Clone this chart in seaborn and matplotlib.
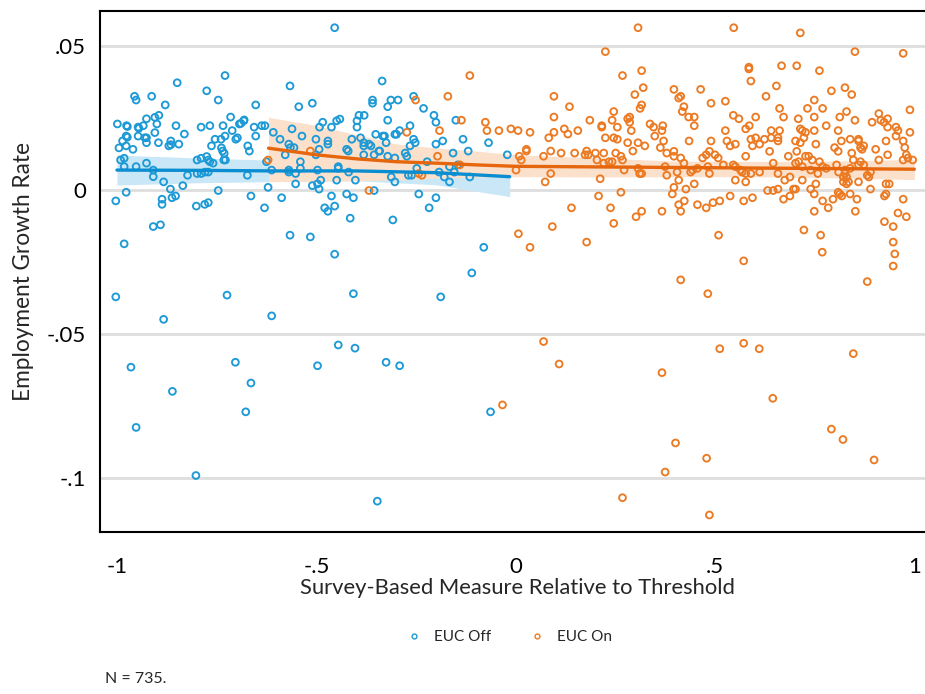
import numpy as np
import pandas as pd
import matplotlib
matplotlib.use("Agg")
import matplotlib.pyplot as plt
import seaborn as sns
from matplotlib.lines import Line2D

# ---------------- data ----------------
off_x_a = [-0.849,-0.729,-0.956,-0.952,-0.913,-0.775,-0.746,-0.879,-0.999,-0.976,
           -0.974,-0.926,-0.905,-0.895,-0.934,-0.947,-0.945,-0.900,-0.852,-0.789,
           -0.767,-0.715,-0.734,-0.711,-0.693,-0.682,-0.905,-0.977,-0.974,-0.947,
           -0.930,-0.926,-0.986,-0.926,-0.896,-0.865,-0.995,-0.977,-0.960,-0.870,
           -0.865,-0.845,-0.831,-0.754,-0.739,-0.729,-0.702,-0.698,-0.763,-0.738,
           -0.735,-0.731,-0.991,-0.982,-0.982,-0.952,-0.926,-0.909,-0.799,-0.789,
           -0.775,-0.771,-0.767,-0.759,-0.732,-0.728,-0.909,-0.823,-0.799,-0.789,
           -0.779,-0.771,-0.883,-0.835,-0.866,-0.977,-0.746,-1.003,-0.887,-0.887,
           -0.862,-0.853,-0.801,-0.780,-0.771,-0.909,-0.891]
off_y_a = [0.0372,0.0397,0.0325,0.0312,0.0325,0.0344,0.0312,0.0295,0.0229,0.0223,
           0.0220,0.0247,0.0252,0.0259,0.0223,0.0218,0.0214,0.0229,0.0223,0.0218,
           0.0223,0.0253,0.0223,0.0206,0.0229,0.0240,0.0199,0.0187,0.0183,0.0187,
           0.0181,0.0181,0.0170,0.0164,0.0164,0.0170,0.0146,0.0153,0.0141,0.0153,
           0.0157,0.0159,0.0194,0.0176,0.0176,0.0187,0.0176,0.0181,0.0153,0.0146,
           0.0135,0.0127,0.0104,0.0110,0.0081,0.0081,0.0093,0.0069,0.0104,0.0110,
           0.0116,0.0104,0.0098,0.0093,0.0104,0.0104,0.0046,0.0051,0.0057,0.0057,
           0.0062,0.0062,0.0028,0.0015,0.0003,-0.0008,-0.0002,-0.0038,-0.0032,-0.0050,
           -0.0027,-0.0021,-0.0056,-0.0050,-0.0044,-0.0127,-0.0121]

off_x_b = [-0.454,-0.335,-0.566,-0.652,-0.544,-0.510,-0.359,-0.359,-0.681,-0.689,
           -0.656,-0.637,-0.629,-0.652,-0.608,-0.672,-0.668,-0.591,-0.561,-0.536,
           -0.569,-0.565,-0.556,-0.492,-0.484,-0.462,-0.449,-0.441,-0.501,-0.471,
           -0.471,-0.493,-0.501,-0.578,-0.540,-0.424,-0.420,-0.411,-0.398,-0.398,
           -0.393,-0.380,-0.389,-0.381,-0.381,-0.368,-0.363,-0.351,-0.381,-0.355,
           -0.343,-0.333,-0.625,-0.612,-0.569,-0.569,-0.552,-0.540,-0.497,-0.445,
           -0.445,-0.419,-0.673,-0.621,-0.552,-0.510,-0.497,-0.493,-0.489,-0.449,
           -0.402,-0.355,-0.664,-0.587,-0.630,-0.462,-0.454,-0.479,-0.471,-0.424,
           -0.407,-0.415]
off_y_b = [0.0563,0.0378,0.0361,0.0295,0.0289,0.0301,0.0312,0.0301,0.0243,0.0231,
           0.0218,0.0223,0.0223,0.0187,0.0200,0.0153,0.0135,0.0176,0.0212,0.0187,
           0.0159,0.0147,0.0147,0.0218,0.0235,0.0218,0.0240,0.0246,0.0176,0.0170,
           0.0159,0.0141,0.0122,0.0122,0.0098,0.0141,0.0135,0.0176,0.0218,0.0240,
           0.0259,0.0259,0.0181,0.0164,0.0153,0.0159,0.0153,0.0193,0.0122,0.0122,
           0.0135,0.0187,0.0098,0.0069,0.0069,0.0062,0.0057,0.0075,0.0069,0.0081,
           0.0075,0.0062,0.0051,0.0009,0.0021,0.0015,0.0021,0.0003,0.0034,0.0034,
           0.0034,-0.0002,-0.0021,-0.0027,-0.0062,-0.0021,-0.0056,-0.0062,-0.0074,-0.0014,
           -0.0027,-0.0098]

off_x_c = [-0.313,-0.295,-0.321,-0.256,-0.231,-0.321,-0.205,-0.200,-0.150,-0.329,
           -0.303,-0.299,-0.291,-0.265,-0.256,-0.252,-0.265,-0.325,-0.341,-0.321,
           -0.303,-0.277,-0.273,-0.200,-0.183,-0.132,-0.157,-0.119,-0.068,-0.021,
           -0.222,-0.248,-0.166,-0.145,-0.192,-0.154,-0.269,-0.261,-0.312,-0.303,
           -0.179,-0.166,-0.115,-0.243,-0.200,-0.217,-0.308]
off_y_c = [0.0312,0.0312,0.0289,0.0325,0.0283,0.0242,0.0259,0.0235,0.0242,0.0187,
           0.0193,0.0193,0.0206,0.0223,0.0176,0.0164,0.0153,0.0164,0.0135,0.0117,
           0.0111,0.0128,0.0117,0.0159,0.0170,0.0176,0.0128,0.0135,0.0164,0.0122,
           0.0098,0.0075,0.0081,0.0087,0.0062,0.0062,0.0051,0.0051,0.0045,0.0028,
           0.0045,0.0028,0.0045,-0.0014,-0.0027,-0.0062,-0.0104]

off_x_d = [-0.982,-1.003,-0.883,-0.724,-0.612,-0.566,-0.515,-0.454,-0.407,-0.188,
           -0.110,-0.080,-0.965,-0.952,-0.861,-0.802,-0.703,-0.664,-0.677,-0.497,
           -0.445,-0.403,-0.325,-0.291,-0.347,-0.063]
off_y_d = [-0.0187,-0.0371,-0.0449,-0.0365,-0.0437,-0.0157,-0.0163,-0.0223,-0.0360,-0.0371,
           -0.0288,-0.0199,-0.0615,-0.0824,-0.0699,-0.0991,-0.0598,-0.0670,-0.0770,-0.0610,
           -0.0538,-0.0549,-0.0598,-0.0610,-0.1080,-0.0770]

on_x_a = [-0.621,-0.515,-0.368,-0.115,-0.170,-0.251,-0.136,-0.076,-0.191,-0.273,
          -0.072,-0.042,-0.012,0.006,-0.196,0.009,0.014,-0.140,0.001,-0.243,
          -0.235,0.007,-0.033]
on_y_a = [0.0104,0.0135,-0.0002,0.0397,0.0325,0.0312,0.0242,0.0235,0.0206,0.0200,
          0.0206,0.0206,0.0212,0.0206,0.0117,0.0117,0.0104,0.0087,0.0069,0.0057,
          0.0051,-0.0152,-0.0746]

on_x_b = [0.307,0.225,0.316,0.268,0.320,0.299,0.096,0.135,0.316,0.312,
          0.246,0.096,0.186,0.242,0.281,0.286,0.286,0.216,0.216,0.255,
          0.290,0.122,0.131,0.156,0.096,0.083,0.036,0.225,0.246,0.255,
          0.281,0.307,0.337,0.346,0.349,0.367,0.369,0.324,0.363,0.027,
          0.027,0.088,0.114,0.148,0.178,0.174,0.182,0.200,0.221,0.251,
          0.294,0.070,0.204,0.221,0.234,0.242,0.264,0.268,0.307,0.311,
          0.316,0.272,0.088,0.074,0.212,0.208,0.264,0.140,0.238,0.092,
          0.246,0.302,0.316,0.367]
on_y_b = [0.0563,0.0480,0.0414,0.0397,0.0355,0.0331,0.0325,0.0289,0.0295,0.0283,
          0.0272,0.0253,0.0242,0.0242,0.0247,0.0253,0.0235,0.0223,0.0218,0.0218,
          0.0206,0.0212,0.0194,0.0206,0.0200,0.0181,0.0200,0.0181,0.0181,0.0176,
          0.0164,0.0164,0.0229,0.0218,0.0187,0.0206,0.0223,0.0153,0.0147,0.0141,
          0.0135,0.0135,0.0128,0.0128,0.0135,0.0122,0.0122,0.0128,0.0128,0.0128,
          0.0135,0.0117,0.0104,0.0093,0.0098,0.0098,0.0117,0.0104,0.0075,0.0057,
          0.0057,0.0069,0.0057,0.0028,0.0039,-0.0021,-0.0008,-0.0062,-0.0062,-0.0127,
          -0.0116,-0.0093,-0.0074,-0.0074]

on_x_c = [0.547,0.714,0.585,0.585,0.667,0.705,0.590,0.397,0.464,0.654,
          0.414,0.409,0.628,0.422,0.418,0.490,0.526,0.662,0.434,0.448,
          0.448,0.546,0.560,0.602,0.672,0.709,0.586,0.577,0.526,0.641,
          0.662,0.719,0.371,0.435,0.490,0.530,0.538,0.551,0.590,0.602,
          0.594,0.612,0.624,0.641,0.658,0.658,0.637,0.702,0.714,0.705,
          0.379,0.397,0.397,0.414,0.422,0.469,0.478,0.486,0.500,0.508,
          0.577,0.684,0.375,0.379,0.405,0.439,0.444,0.456,0.482,0.486,
          0.521,0.546,0.551,0.564,0.568,0.577,0.590,0.612,0.646,0.658,
          0.702,0.710,0.688,0.675,0.719,0.409,0.397,0.393,0.427,0.448,
          0.551,0.577,0.538,0.594,0.572,0.632,0.646,0.658,0.697,0.702,
          0.688,0.672,0.409,0.423,0.414,0.456,0.478,0.495,0.512]
on_y_c = [0.0563,0.0545,0.0426,0.0420,0.0431,0.0431,0.0378,0.0349,0.0349,0.0361,
          0.0325,0.0319,0.0325,0.0289,0.0272,0.0301,0.0308,0.0283,0.0253,0.0253,
          0.0223,0.0259,0.0247,0.0253,0.0253,0.0247,0.0223,0.0212,0.0206,0.0206,
          0.0206,0.0206,0.0170,0.0170,0.0170,0.0170,0.0153,0.0159,0.0176,0.0181,
          0.0153,0.0159,0.0176,0.0181,0.0181,0.0170,0.0134,0.0170,0.0164,0.0134,
          0.0128,0.0134,0.0117,0.0111,0.0093,0.0111,0.0122,0.0134,0.0122,0.0111,
          0.0117,0.0117,0.0081,0.0051,0.0062,0.0062,0.0069,0.0075,0.0081,0.0057,
          0.0087,0.0087,0.0081,0.0069,0.0062,0.0057,0.0057,0.0062,0.0093,0.0057,
          0.0093,0.0098,0.0045,0.0034,0.0034,0.0034,0.0009,-0.0014,0.0003,0.0021,
          0.0034,0.0028,-0.0021,-0.0027,-0.0038,-0.0002,-0.0002,0.0003,0.0003,0.0003,
          -0.0021,-0.0032,-0.0051,-0.0038,-0.0074,-0.0051,-0.0062,-0.0044,-0.0038]

on_x_d = [0.851,0.972,0.762,0.792,0.826,0.843,0.749,0.732,0.770,0.830,
          0.989,0.749,0.813,0.911,0.851,0.894,0.916,0.933,0.924,0.779,
          0.933,0.954,0.959,0.954,0.989,0.714,0.727,0.749,0.809,0.723,
          0.753,0.817,0.839,0.860,0.860,0.865,0.873,0.869,0.800,0.809,
          0.903,0.929,0.972,0.976,0.843,0.933,0.980,0.984,0.996,0.972,
          0.727,0.735,0.744,0.762,0.770,0.779,0.719,0.805,0.847,0.839,
          0.860,0.873,0.865,0.911,0.740,0.758,0.810,0.826,0.826,0.830,
          0.822,0.882,0.886,0.890,0.753,0.822,0.830,0.835,0.860,0.929,
          0.937,0.740,0.749,0.890,0.809,0.813,0.818,0.839,0.925,0.929,
          0.796,0.856,0.770,0.972,0.749,0.784,0.852,0.959,0.980,0.925,
          0.947]
on_y_d = [0.0480,0.0474,0.0414,0.0344,0.0355,0.0331,0.0312,0.0283,0.0283,0.0272,
          0.0278,0.0253,0.0253,0.0265,0.0242,0.0235,0.0242,0.0247,0.0235,0.0223,
          0.0218,0.0218,0.0206,0.0187,0.0200,0.0212,0.0200,0.0206,0.0206,0.0181,
          0.0159,0.0170,0.0176,0.0176,0.0170,0.0147,0.0153,0.0141,0.0147,0.0134,
          0.0141,0.0170,0.0170,0.0147,0.0128,0.0122,0.0122,0.0111,0.0104,0.0104,
          0.0117,0.0117,0.0104,0.0098,0.0081,0.0075,0.0081,0.0087,0.0104,0.0075,
          0.0087,0.0087,0.0098,0.0104,0.0069,0.0057,0.0062,0.0069,0.0057,0.0045,
          0.0045,0.0051,0.0045,0.0062,0.0021,0.0028,0.0021,0.0028,0.0028,0.0021,
          0.0021,0.0003,-0.0014,0.0003,-0.0008,-0.0014,-0.0021,-0.0014,-0.0021,-0.0014,
          -0.0032,-0.0032,-0.0038,-0.0032,-0.0074,-0.0062,-0.0074,-0.0080,-0.0093,-0.0110,
          -0.0127]

on_x_e = [0.036,0.178,0.509,0.414,0.482,0.572,0.723,0.765,0.769,0.947,
          0.951,0.947,0.882,0.070,0.109,0.367,0.512,0.572,0.611,0.847,
          0.645,0.401,0.479,0.375,0.792,0.821,0.899,0.268,0.486]
on_y_e = [-0.0199,-0.0181,-0.0157,-0.0312,-0.0360,-0.0246,-0.0139,-0.0157,-0.0216,-0.0181,
          -0.0222,-0.0264,-0.0318,-0.0526,-0.0604,-0.0634,-0.0551,-0.0532,-0.0551,-0.0568,
          -0.0723,-0.0878,-0.0931,-0.0979,-0.0830,-0.0866,-0.0937,-0.1068,-0.1128]

# local fits with confidence bands
off_fit_x = [-1.0, -0.8, -0.6, -0.4, -0.2, -0.015]
off_fit_y = [0.0069, 0.0068, 0.0066, 0.0066, 0.0060, 0.0046]
off_fit_lo = [0.0017, 0.0025, 0.0029, 0.0032, 0.0018, -0.0023]
off_fit_hi = [0.0121, 0.0111, 0.0103, 0.0100, 0.0102, 0.0115]

on_fit_x = [-0.62, -0.5, -0.4, -0.3, -0.2, -0.1, 0.0, 0.2, 0.4, 0.6, 0.8, 1.0]
on_fit_y = [0.0145, 0.0122, 0.0108, 0.0098, 0.0093, 0.0087, 0.0082, 0.0080, 0.0078, 0.0076, 0.0074, 0.0072]
on_fit_lo = [0.0029, 0.0029, 0.0032, 0.0035, 0.0041, 0.0044, 0.0046, 0.0045, 0.0046, 0.0046, 0.0042, 0.0036]
on_fit_hi = [0.0252, 0.0224, 0.0192, 0.0160, 0.0146, 0.0135, 0.0122, 0.0112, 0.0100, 0.0099, 0.0100, 0.0106]

x_ticks = [-1, -0.5, 0, 0.5, 1]
x_tick_labels = ["-1", "-.5", "0", ".5", "1"]
y_ticks = [0.05, 0, -0.05, -0.1]
y_tick_labels = [".05", "0", "-.05", "-.1"]

# ---------------- styling ----------------
BLUE = "#1d9ad6"
BLUE_LINE = "#0b8dd1"
BLUE_BAND = "#c9e7f7"
ORANGE = "#ec7a22"
ORANGE_LINE = "#e5660c"
ORANGE_BAND = "#fbe0cc"
GRID = "#dedede"

sns.set_theme(style="white")
plt.rcParams["font.family"] = ["Lato", "DejaVu Sans"]

off = pd.DataFrame({"x": off_x_a + off_x_b + off_x_c + off_x_d,
                    "y": off_y_a + off_y_b + off_y_c + off_y_d})
on = pd.DataFrame({"x": on_x_a + on_x_b + on_x_c + on_x_d + on_x_e,
                   "y": on_y_a + on_y_b + on_y_c + on_y_d + on_y_e})
off_fit = pd.DataFrame({"x": off_fit_x, "y": off_fit_y})
on_fit = pd.DataFrame({"x": on_fit_x, "y": on_fit_y})

fig = plt.figure(figsize=(9.25, 6.94), dpi=100)
ax = fig.add_axes([100 / 925, 162 / 694, 1.0 - 100 / 925 + 0.01, (683 - 162) / 694])

ax.set_xlim(-1.0426, 1.05)
ax.set_ylim(-0.1187, 0.0621)

for yt in y_ticks:
    ax.axhline(yt, color=GRID, lw=2.0, zorder=0)

ax.fill_between(off_fit_x, off_fit_lo, off_fit_hi, color=BLUE_BAND, lw=0, zorder=1)
ax.fill_between(on_fit_x, on_fit_lo, on_fit_hi, color=ORANGE_BAND, lw=0, zorder=1.1)

sns.scatterplot(data=off, x="x", y="y", ax=ax, s=24, marker="o", color=BLUE,
                linewidth=1.35, zorder=3, legend=False)
ax.collections[-1].set_facecolor("none")
ax.collections[-1].set_edgecolor(BLUE)
sns.scatterplot(data=on, x="x", y="y", ax=ax, s=24, marker="o", color=ORANGE,
                linewidth=1.35, zorder=3, legend=False)
ax.collections[-1].set_facecolor("none")
ax.collections[-1].set_edgecolor(ORANGE)

sns.lineplot(data=off_fit, x="x", y="y", ax=ax, color=BLUE_LINE, lw=2.4,
             sort=False, estimator=None, zorder=4)
sns.lineplot(data=on_fit, x="x", y="y", ax=ax, color=ORANGE_LINE, lw=2.4,
             sort=False, estimator=None, zorder=4)

ax.set_xticks(x_ticks)
ax.set_xticklabels(x_tick_labels)
ax.set_yticks(y_ticks)
ax.set_yticklabels(y_tick_labels)
ax.tick_params(axis="both", direction="in", length=8, width=1.5, colors="black",
               labelsize=16, labelcolor="black")
ax.tick_params(axis="x", pad=18)
ax.tick_params(axis="y", pad=10)

ax.set_xlabel("Survey-Based Measure Relative to Threshold", fontsize=15.8, labelpad=0.5)
ax.set_ylabel("Employment Growth Rate", fontsize=16.3, labelpad=9)

for side in ["left", "bottom", "top"]:
    ax.spines[side].set_visible(True)
    ax.spines[side].set_color("black")
    ax.spines[side].set_linewidth(1.5)
ax.spines["right"].set_visible(False)
ax.grid(False)

handles = [Line2D([], [], ls="none", marker="o", markersize=3.5, markerfacecolor="none",
                  markeredgecolor=BLUE, markeredgewidth=1.0, label="EUC Off"),
           Line2D([], [], ls="none", marker="o", markersize=3.5, markerfacecolor="none",
                  markeredgecolor=ORANGE, markeredgewidth=1.0, label="EUC On")]
fig.legend(handles=handles, loc="center", bbox_to_anchor=(509 / 925, 1 - 637 / 694),
           ncol=2, frameon=False, fontsize=11, columnspacing=2.5, handlelength=1.0,
           handletextpad=0.8)

fig.text(105 / 925, 1 - 679 / 694, "N = 735.", fontsize=11.5, va="center", ha="left")

fig.savefig("out.png", dpi=100)
